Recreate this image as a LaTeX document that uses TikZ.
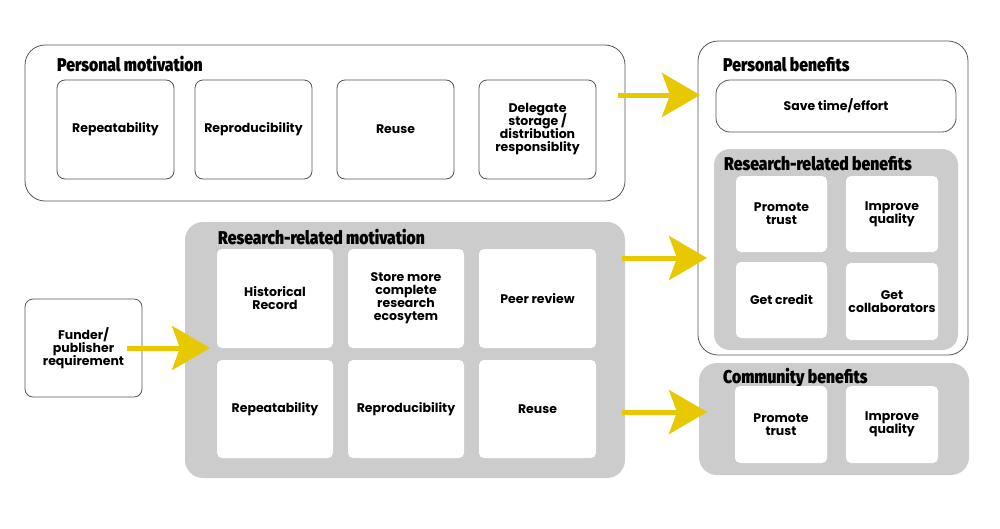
\documentclass[tikz,border=0pt]{standalone}
\usepackage{fontspec}
\setmainfont{Poppins}
\newfontfamily\headfont[FakeStretch=0.85]{Fira Sans Black}
\usetikzlibrary{arrows.meta}
\definecolor{linegray}{RGB}{85,85,85}
\definecolor{grp}{RGB}{204,204,204}
\definecolor{yel}{RGB}{232,200,0}
\newcommand{\bodyfnt}{\bfseries\fontsize{12.5}{13}\selectfont\lineskiplimit=-20pt\lineskip=0pt}
\tikzset{
  outer/.style={draw=linegray, line width=0.8pt, fill=white, rounded corners=20pt, inner sep=0pt, outer sep=0pt, anchor=north west},
  group/.style={fill=grp, rounded corners=18pt, inner sep=0pt, outer sep=0pt, anchor=north west},
  item/.style={draw=linegray, line width=0.8pt, fill=white, rounded corners=8pt, align=center, inner sep=0pt, outer sep=0pt, anchor=north west, font=\bodyfnt},
  witem/.style={fill=white, rounded corners=5pt, align=center, inner sep=0pt, outer sep=0pt, anchor=north west, font=\bodyfnt},
  head/.style={anchor=base west, inner sep=0pt, font=\headfont\fontsize{18.5}{18.5}\selectfont},
  arr/.style={draw=yel, line width=5pt, -{Stealth[length=38pt,width=44pt,inset=8pt]}}
}
\begin{document}
\begin{tikzpicture}[x=1pt,y=-1pt]
\useasboundingbox (0,0) rectangle (1000,528);
% Personal motivation
\node[outer, minimum width=600pt, minimum height=156pt] (pm) at (25,45) {};
\node[head] (pmt) at (57,71) {Personal motivation};
\node[item, minimum width=117pt, minimum height=99pt] (pm1) at (57,80) {Repeatability};
\node[item, minimum width=117pt, minimum height=99pt] (pm2) at (195,80) {Reproducibility};
\node[item, minimum width=117pt, minimum height=99pt] (pm3) at (337,80) {Reuse};
\node[item, minimum width=117pt, minimum height=99pt] (pm4) at (479,80) {Delegate\\storage /\\distribution\\responsiblity};
% Personal benefits
\node[outer, minimum width=270pt, minimum height=314pt] (pb) at (698,41) {};
\node[head] (pbt) at (723,71) {Personal benefits};
\node[item, minimum width=240pt, minimum height=52pt, rounded corners=14pt] (pb1) at (716,80) {Save time/effort};
\node[group, minimum width=244pt, minimum height=201pt, rounded corners=16pt] (rb) at (714,149) {};
\node[head] (rbt) at (724,170) {Research-related benefits};
\node[witem, minimum width=91pt, minimum height=76pt] (rb1) at (736,176) {Promote\\trust};
\node[witem, minimum width=92pt, minimum height=76pt] (rb2) at (846,176) {Improve\\quality};
\node[witem, minimum width=91pt, minimum height=76pt] (rb3) at (736,262) {Get credit};
\node[witem, minimum width=92pt, minimum height=77pt] (rb4) at (846,263) {Get\\collaborators};
% Research-related motivation
\node[group, minimum width=440pt, minimum height=256pt] (rm) at (185,222) {};
\node[head] (rmt) at (218,244) {Research-related motivation};
\node[witem, minimum width=116pt, minimum height=99pt] (rm1) at (217,249) {Historical\\Record};
\node[witem, minimum width=116pt, minimum height=99pt] (rm2) at (348,249) {Store more\\complete\\research\\ecosytem};
\node[witem, minimum width=117pt, minimum height=99pt] (rm3) at (479,249) {Peer review};
\node[witem, minimum width=116pt, minimum height=98pt] (rm4) at (217,360) {Repeatability};
\node[witem, minimum width=116pt, minimum height=98pt] (rm5) at (348,360) {Reproducibility};
\node[witem, minimum width=117pt, minimum height=98pt] (rm6) at (479,360) {Reuse};
% Funder
\node[item, minimum width=117pt, minimum height=98pt] (fu) at (25,299) {Funder/\\publisher\\requirement};
% Community benefits
\node[group, minimum width=270pt, minimum height=112pt] (cb) at (699,363) {};
\node[head] (cbt) at (723,383) {Community benefits};
\node[witem, minimum width=92pt, minimum height=77pt] (cb1) at (735,386) {Promote\\trust};
\node[witem, minimum width=92pt, minimum height=77pt] (cb2) at (846,386) {Improve\\quality};
% Arrows
\coordinate (a1s) at (618,95);
\coordinate (a1e) at (700,95);
\coordinate (a2s) at (127,348);
\coordinate (a2e) at (210,348);
\coordinate (a3s) at (622,258);
\coordinate (a3e) at (707,258);
\coordinate (a4s) at (622,412);
\coordinate (a4e) at (707,412);
\draw[arr] (a1s) -- (a1e);
\draw[arr] (a2s) -- (a2e);
\draw[arr] (a3s) -- (a3e);
\draw[arr] (a4s) -- (a4e);
\end{tikzpicture}
\end{document}
